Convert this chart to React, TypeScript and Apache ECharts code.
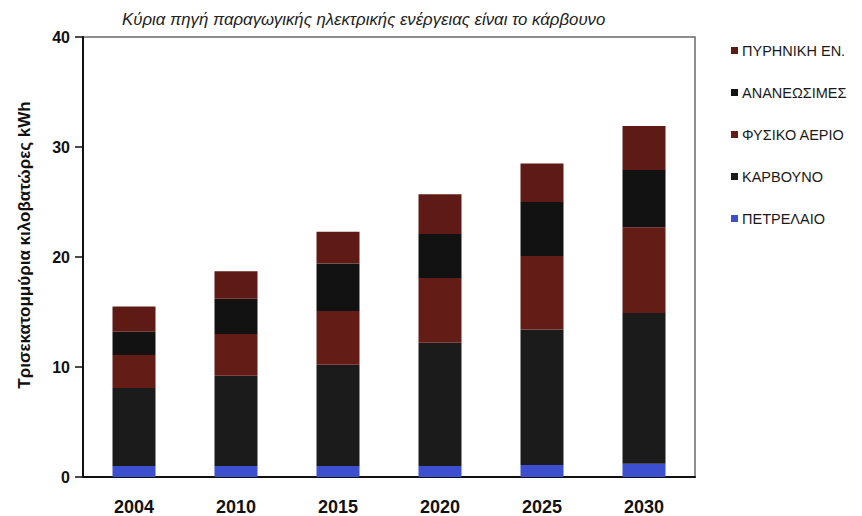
import React, { useEffect, useRef } from "react";
import * as echarts from "echarts";

const years = ["2004", "2010", "2015", "2020", "2025", "2030"];
const oil = [1.0, 1.0, 1.0, 1.0, 1.1, 1.2];
const coal = [7.1, 8.2, 9.2, 11.2, 12.3, 13.7];
const gas = [3.0, 3.8, 4.9, 5.9, 6.7, 7.8];
const renewables = [2.1, 3.2, 4.3, 4.0, 4.9, 5.2];
const nuclear = [2.3, 2.5, 2.9, 3.6, 3.5, 4.0];

const seriesNames = {
  nuclear: "ΠΥΡΗΝΙΚΗ ΕΝ.",
  renewables: "ΑΝΑΝΕΩΣΙΜΕΣ",
  gas: "ΦΥΣΙΚΟ ΑΕΡΙΟ",
  coal: "ΚΑΡΒΟΥΝΟ",
  oil: "ΠΕΤΡΕΛΑΙΟ",
};

const subtitle = "Κύρια πηγή παραγωγικής ηλεκτρικής ενέργειας είναι το κάρβουνο";
const yAxisName = "Τρισεκατομμύρια κιλοβατώρες kWh";

export default function App() {
  const ref = useRef<HTMLDivElement>(null);
  useEffect(() => {
    if (!ref.current) return;
    const chart = echarts.init(ref.current, null, { renderer: "svg" });
    const font = "Liberation Sans, Arial, sans-serif";
    const mk = (name: string, data: number[], color: string) => ({
      name,
      type: "bar",
      stack: "total",
      data,
      barWidth: 43,
      itemStyle: { color },
      emphasis: { disabled: true },
    });
    chart.setOption({
      animation: false,
      backgroundColor: "#ffffff",
      textStyle: { fontFamily: font },
      grid: {
        left: 83,
        right: 167,
        top: 37,
        bottom: 38,
        show: true,
        borderColor: "#6a6a6a",
        borderWidth: 1.5,
      },
      legend: {
        orient: "vertical",
        left: 726,
        top: 38,
        itemWidth: 7,
        itemHeight: 7,
        itemGap: 27,
        icon: "rect",
        data: [
          seriesNames.nuclear,
          seriesNames.renewables,
          seriesNames.gas,
          seriesNames.coal,
          seriesNames.oil,
        ],
        textStyle: { fontSize: 14.5, color: "#1a1a1a", fontFamily: font, lineHeight: 14, padding: [0, 0, 0, -1] },
      },
      graphic: [
        {
          type: "text",
          left: 122,
          top: 11,
          style: {
            text: subtitle,
            font: "italic 16.8px Liberation Sans, Arial, sans-serif",
            fill: "#222",
          },
        },
        {
          type: "text",
          x: 24,
          y: 245,
          rotation: Math.PI / 2,
          style: {
            text: yAxisName,
            font: "bold 17px Liberation Sans, Arial, sans-serif",
            fill: "#111",
            align: "center",
            verticalAlign: "middle",
          },
        },
      ],
      xAxis: {
        type: "category",
        data: years,
        axisLine: { lineStyle: { color: "#111", width: 2 } },
        axisTick: { show: false },
        axisLabel: { fontSize: 18, fontWeight: "bold", color: "#111", margin: 21 },
      },
      yAxis: {
        type: "value",
        min: 0,
        max: 40,
        interval: 10,
        axisLine: { show: true, lineStyle: { color: "#111", width: 2 } },
        axisTick: { show: true, length: 8, lineStyle: { color: "#111", width: 1.5 } },
        axisLabel: { fontSize: 16, fontWeight: "bold", color: "#111", margin: 13 },
        splitLine: { show: false },
      },
      series: [
        mk(seriesNames.oil, oil, "#3b4fcf"),
        mk(seriesNames.coal, coal, "#1b1b1b"),
        mk(seriesNames.gas, gas, "#641c16"),
        mk(seriesNames.renewables, renewables, "#121212"),
        mk(seriesNames.nuclear, nuclear, "#5e1a14"),
      ],
    });
    return () => chart.dispose();
  }, []);
  return (
    <div
      ref={ref}
      style={{ position: "absolute", left: 0, top: 0, width: 862, height: 516 }}
    />
  );
}
